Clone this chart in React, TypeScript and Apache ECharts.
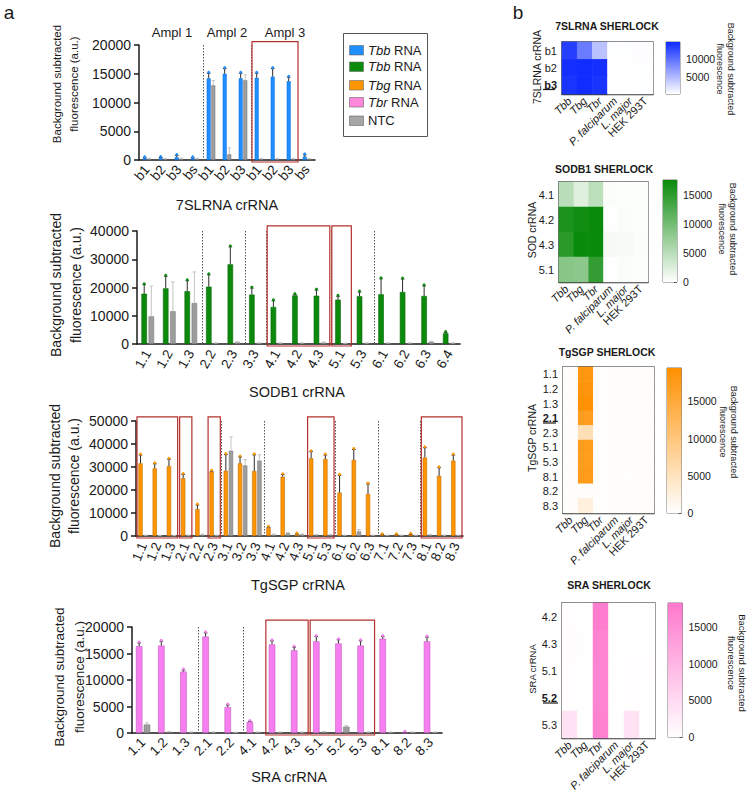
import React, { useEffect, useRef } from 'react';
import * as echarts from 'echarts';

const FONT = '"Liberation Sans", Arial, Helvetica, sans-serif';
const INK = '#1a1a1a';

// ---------- Panel a : bar charts ----------
// 7SLRNA
const cats7SL = ['b1', 'b2', 'b3', 'bs', 'b1', 'b2', 'b3', 'b1', 'b2', 'b3', 'bs'];
const tbb7SL = [300, 350, 500, 300, 14200, 15000, 14200, 14300, 14500, 13700, 600];
const tbb7SLErr = [100, 100, 300, 100, 900, 900, 900, 800, 1400, 700, 300];
const ntc7SL = [200, 150, 200, 200, 13000, 1000, 13900, 150, 150, 150, 150];
const ntc7SLErr = [100, 100, 100, 100, 800, 1100, 900, 100, 100, 100, 100];
const sep7SL = [4, 7];
const box7SL = [[7, 9, 20600]];
const ampl7SL = ['Ampl 1', 'Ampl 2', 'Ampl 3'];

// SODB1
const catsSOD = ['1.1', '1.2', '1.3', '2.2', '2.3', '3.3', '4.1', '4.2', '4.3', '5.1', '5.3', '6.1', '6.2', '6.3', '6.4'];
const tbbSOD = [17800, 19700, 18700, 20300, 28200, 17500, 13100, 17200, 17100, 15700, 16900, 17600, 18400, 17000, 3800];
const tbbSODErr = [3200, 4300, 3700, 4200, 6200, 2300, 2200, 300, 2000, 1200, 1500, 5500, 4600, 3600, 300];
const ntcSOD = [9800, 11600, 14500, 300, 600, 300, 300, 300, 500, 200, 300, 300, 300, 800, 300];
const ntcSODErr = [10700, 10400, 11000, 100, 200, 100, 100, 100, 200, 100, 100, 100, 100, 200, 100];
const sepSOD = [3, 5, 6, 9, 11];
const boxSOD = [[6, 8, 41800], [9, 9, 41800]];

// TgSGP
const catsTg = ['1.1', '1.2', '1.3', '2.1', '2.2', '2.3', '3.1', '3.2', '3.3', '4.1', '4.2', '4.3', '5.1', '5.3', '6.1', '6.2', '6.3', '7.1', '7.2', '7.3', '8.1', '8.2', '8.3'];
const tbgTg = [31600, 29400, 30400, 25100, 11700, 28000, 28400, 31600, 28300, 3500, 25800, 700, 33800, 33500, 18900, 33100, 18300, 500, 500, 700, 34100, 26200, 32800];
const tbgTgErr = [3600, 2000, 3000, 1700, 1800, 200, 7000, 2800, 7000, 300, 900, 200, 2900, 1700, 7500, 4500, 4300, 100, 100, 100, 4300, 3500, 2400];
const ntcTg = [300, 200, 200, 300, 600, 300, 37100, 30700, 32800, 600, 1200, 700, 500, 500, 300, 2000, 300, 300, 300, 300, 500, 300, 300];
const ntcTgErr = [100, 100, 100, 100, 200, 100, 6000, 2500, 2500, 200, 300, 200, 200, 200, 100, 800, 100, 100, 100, 100, 200, 100, 100];
const sepTg = [6, 9, 14, 17, 20];
const boxTg = [[0, 2, 51800], [3, 3, 51800], [5, 5, 51800], [12, 13, 51800], [20, 22, 51800]];

// SRA
const catsSRA = ['1.1', '1.2', '1.3', '2.1', '2.2', '4.1', '4.2', '4.3', '5.1', '5.2', '5.3', '8.1', '8.2', '8.3'];
const tbrSRA = [16400, 16500, 11600, 18200, 4900, 2100, 16700, 15600, 17300, 16900, 16500, 17800, 100, 17300];
const tbrSRAErr = [600, 800, 300, 700, 400, 100, 700, 600, 900, 700, 900, 400, 50, 800];
const ntcSRA = [1600, 200, 150, 150, 100, 150, 150, 150, 200, 1200, 150, 150, 150, 150];
const ntcSRAErr = [300, 100, 50, 50, 50, 50, 50, 50, 100, 200, 50, 50, 50, 50];
const sepSRA = [3, 5];
const boxSRA = [[6, 7, 21300], [8, 10, 21300]];

const legendItems = [
  ['Tbb', ' RNA'],
  ['Tbb', ' RNA'],
  ['Tbg', ' RNA'],
  ['Tbr', ' RNA'],
  ['', 'NTC'],
];

// ---------- Panel b : heatmaps ----------
const hmCols = ['Tbb', 'Tbg', 'Tbr', 'P. falciparum', 'L. major', 'HEK 293T'];
const hm7SLRows = ['b1', 'b2', 'b3'];
const hm7SLVals = [
  [13500, 9300, 4300, 100, 100, 150],
  [14600, 14800, 14600, 80, 80, 100],
  [14300, 14800, 14300, 80, 80, 100],
];
const hmSODRows = ['4.1', '4.2', '4.3', '5.1'];
const hmSODVals = [
  [5000, 2300, 4800, 300, 200, 200],
  [16200, 17000, 17500, 150, 300, 200],
  [15300, 17400, 17500, 700, 600, 300],
  [8600, 8200, 14600, 150, 300, 200],
];
const hmTgRows = ['1.1', '1.2', '1.3', '2.1', '2.3', '5.1', '5.3', '8.1', '8.2', '8.3'];
const hmTgVals = [
  [400, 18300, 200, 300, 300, 300],
  [400, 18600, 200, 300, 300, 300],
  [400, 19200, 200, 300, 300, 300],
  [400, 17200, 200, 300, 300, 300],
  [400, 5600, 200, 300, 300, 300],
  [400, 17300, 200, 300, 300, 300],
  [400, 17300, 200, 300, 300, 300],
  [400, 17500, 200, 300, 200, 300],
  [400, 300, 200, 300, 300, 300],
  [400, 2600, 200, 300, 300, 300],
];
const hmSRARows = ['4.2', '4.3', '5.1', '5.2', '5.3'];
const hmSRAVals = [
  [300, 200, 17600, 150, 150, 200],
  [450, 200, 16800, 150, 150, 200],
  [300, 200, 16500, 150, 250, 250],
  [300, 200, 16500, 150, 250, 200],
  [3800, 200, 17000, 150, 3800, 200],
];

function errRender(offset: number, color: string, cap: number, dot: string | null) {
  return (params: any, api: any) => {
    const i = api.value(0);
    const p0 = api.coord([i, api.value(1)]);
    const p1 = api.coord([i, api.value(2)]);
    const x = p0[0] + offset;
    const st = { stroke: color, lineWidth: 1 };
    const children: any[] = [
      { type: 'line', shape: { x1: x, y1: p0[1], x2: x, y2: p1[1] }, style: st },
      { type: 'line', shape: { x1: x - cap, y1: p1[1], x2: x + cap, y2: p1[1] }, style: st },
    ];
    if (dot) {
      children.push({ type: 'circle', shape: { cx: x, cy: p1[1] - 1, r: 1.4 }, style: { fill: dot } });
    }
    return { type: 'group', children };
  };
}

function sepRender(params: any, api: any) {
  const i = api.value(0);
  const w = api.size([1, 0])[0];
  const top = api.coord([i, api.value(1)]);
  const bot = api.coord([i, 0]);
  const x = Math.round(top[0] - w / 2) + 0.5;
  return {
    type: 'line',
    shape: { x1: x, y1: top[1], x2: x, y2: bot[1] },
    style: { stroke: '#555', lineWidth: 1, lineDash: [1.5, 1.5] },
  };
}

function boxRender(params: any, api: any) {
  const s = api.value(0);
  const e = api.value(1);
  const t = api.value(2);
  const w = api.size([1, 0])[0];
  const pS = api.coord([s, t]);
  const pE = api.coord([e, 0]);
  const x0 = pS[0] - w / 2 + 1;
  const x1 = pE[0] + w / 2 - 1;
  return {
    type: 'rect',
    shape: { x: x0, y: pS[1], width: x1 - x0, height: pE[1] - pS[1] + 2 },
    style: { fill: 'none', stroke: '#b3302c', lineWidth: 1.2 },
  };
}

const plain = (v: number) => String(v);

export default function App() {
  const ref = useRef<HTMLDivElement>(null);

  useEffect(() => {
    if (!ref.current) return;
    const chart = echarts.init(ref.current, undefined, { renderer: 'svg' });

    const barCharts = [
      { cats: cats7SL, vals: tbb7SL, errs: tbb7SLErr, ntc: ntc7SL, ntcErr: ntc7SLErr, seps: sep7SL, boxes: box7SL,
        color: '#1f8fff', border: '#1272d6', left: 139, top: 45, width: 176, height: 115, max: 20000, interval: 5000,
        rotate: 50, bw: 4, gap: 0.15 },
      { cats: catsSOD, vals: tbbSOD, errs: tbbSODErr, ntc: ntcSOD, ntcErr: ntcSODErr, seps: sepSOD, boxes: boxSOD,
        color: '#0b8a0b', border: '#066606', left: 137, top: 231, width: 323, height: 113, max: 40000, interval: 10000,
        rotate: 60, bw: 5.5, gap: 0.3 },
      { cats: catsTg, vals: tbgTg, errs: tbgTgErr, ntc: ntcTg, ntcErr: ntcTgErr, seps: sepTg, boxes: boxTg,
        color: '#ff9500', border: '#c56f00', left: 136, top: 421, width: 327, height: 115, max: 50000, interval: 10000,
        rotate: 68, bw: 4.3, gap: 0.2 },
      { cats: catsSRA, vals: tbrSRA, errs: tbrSRAErr, ntc: ntcSRA, ntcErr: ntcSRAErr, seps: sepSRA, boxes: boxSRA,
        color: '#f77ef0', border: '#c45cc0', left: 132, top: 627, width: 310, height: 106, max: 20000, interval: 5000,
        rotate: 45, bw: 6.5, gap: 0.2 },
    ];

    const grids: any[] = [];
    const xAxes: any[] = [];
    const yAxes: any[] = [];
    const series: any[] = [];

    barCharts.forEach((c, k) => {
      grids.push({ left: c.left, top: c.top, width: c.width, height: c.height });
      xAxes.push({
        type: 'category', gridIndex: k, data: c.cats,
        axisLine: { lineStyle: { color: INK, width: 1.5 } },
        axisTick: { alignWithLabel: true, length: 5, lineStyle: { color: INK, width: 1.5 } },
        axisLabel: { interval: 0, rotate: c.rotate, fontSize: 13.5, color: INK, margin: 7, fontFamily: FONT },
      });
      yAxes.push({
        type: 'value', gridIndex: k, min: 0, max: c.max, interval: c.interval,
        axisLine: { show: true, lineStyle: { color: INK, width: 1.5 } },
        axisTick: { show: true, length: 5, lineStyle: { color: INK, width: 1.5 } },
        splitLine: { show: false },
        axisLabel: { fontSize: 14, color: INK, margin: 8, fontFamily: FONT, formatter: plain },
      });
      const off = (c.bw + c.gap * c.bw) / 2;
      series.push({
        type: 'bar', xAxisIndex: k, yAxisIndex: k, data: c.vals, barWidth: c.bw, barGap: `${c.gap * 100}%`,
        itemStyle: { color: c.color, borderColor: c.border, borderWidth: 0.6 }, z: 2,
      });
      series.push({
        type: 'bar', xAxisIndex: k, yAxisIndex: k, data: c.ntc, barWidth: c.bw, barGap: `${c.gap * 100}%`,
        itemStyle: { color: '#9d9d9d', borderColor: '#7d7d7d', borderWidth: 0.6 }, z: 2,
      });
      series.push({
        type: 'custom', xAxisIndex: k, yAxisIndex: k, z: 3,
        renderItem: errRender(-off, '#2b2b2b', 1.8, c.color),
        encode: { x: 0, y: [1, 2] },
        data: c.vals.map((v, i) => [i, v, v + c.errs[i]]),
      });
      series.push({
        type: 'custom', xAxisIndex: k, yAxisIndex: k, z: 3,
        renderItem: errRender(off, '#c4c4c4', 1.8, null),
        encode: { x: 0, y: [1, 2] },
        data: c.ntc.map((v, i) => [i, v, v + c.ntcErr[i]]),
      });
      series.push({
        type: 'custom', xAxisIndex: k, yAxisIndex: k, z: 1,
        renderItem: sepRender,
        encode: { x: 0, y: 1 },
        data: c.seps.map((s) => [s, c.max]),
      });
      series.push({
        type: 'custom', xAxisIndex: k, yAxisIndex: k, z: 5,
        renderItem: boxRender,
        encode: { x: [0, 1], y: 2 },
        data: c.boxes,
      });
    });

    const heatmaps = [
      { rows: hm7SLRows, vals: hm7SLVals, color: '#0f2bff', max: 14900, hl: 'b3',
        g: { left: 562, top: 42, width: 91, height: 52 }, cb: { left: 666, top: 42, width: 14, height: 52 }, showMin: false },
      { rows: hmSODRows, vals: hmSODVals, color: '#0a8a0a', max: 17500, hl: '',
        g: { left: 559, top: 182, width: 89, height: 100 }, cb: { left: 663, top: 180, width: 14, height: 102 }, showMin: true },
      { rows: hmTgRows, vals: hmTgVals, color: '#ff9000', max: 19500, hl: '2.1',
        g: { left: 563, top: 367, width: 91, height: 146 }, cb: { left: 667, top: 368, width: 14.5, height: 145 }, showMin: true },
      { rows: hmSRARows, vals: hmSRAVals, color: '#ff78cd', max: 18300, hl: '5.2',
        g: { left: 562, top: 603, width: 93, height: 135 }, cb: { left: 668, top: 603, width: 14.5, height: 134 }, showMin: true },
    ];

    const visualMaps: any[] = [];
    heatmaps.forEach((h) => {
      const gi = grids.length;
      grids.push({ ...h.g, show: true, borderColor: '#3a3a3a', borderWidth: 1.3, backgroundColor: 'transparent' });
      xAxes.push({
        type: 'category', gridIndex: gi, data: hmCols,
        axisLine: { lineStyle: { color: '#3a3a3a', width: 1.3 } },
        axisTick: { alignWithLabel: true, length: 4, lineStyle: { color: '#3a3a3a' } },
        axisLabel: {
          interval: 0, rotate: 45, fontSize: 11, color: INK, margin: 5, fontFamily: FONT,
          formatter: (v: string) => (v === 'HEK 293T' ? v : `{i|${v}}`),
          rich: { i: { fontStyle: 'italic', fontSize: 11, color: INK, fontFamily: FONT } },
        },
        splitLine: { show: false },
      });
      yAxes.push({
        type: 'category', gridIndex: gi, data: h.rows, inverse: true,
        axisLine: { lineStyle: { color: '#3a3a3a', width: 1.3 } },
        axisTick: { alignWithLabel: true, length: 4, lineStyle: { color: '#3a3a3a' } },
        axisLabel: {
          interval: 0, fontSize: 11, color: INK, margin: 5, fontFamily: FONT,
          formatter: (v: string) => (v === h.hl ? `{b|${v}}` : v),
          rich: { b: { fontWeight: 'bold', fontSize: 11, color: INK, fontFamily: FONT } },
        },
      });
      const data: number[][] = [];
      h.vals.forEach((row, r) => row.forEach((v, cI) => data.push([cI, r, v])));
      visualMaps.push({
        type: 'continuous', show: false, seriesIndex: series.length, min: 0, max: h.max,
        dimension: 2, inRange: { color: ['#ffffff', h.color] },
      });
      series.push({
        type: 'heatmap', xAxisIndex: gi, yAxisIndex: gi, data,
        itemStyle: { borderWidth: 0 }, emphasis: { disabled: true },
      });

      // colour bar
      const ci = grids.length;
      grids.push({ ...h.cb, show: true, borderColor: '#777', borderWidth: 1, backgroundColor: 'transparent' });
      xAxes.push({ type: 'category', gridIndex: ci, data: [''], show: false });
      yAxes.push({
        type: 'value', gridIndex: ci, min: 0, max: h.max, interval: 5000, position: 'right',
        axisLine: { show: false },
        axisTick: { show: true, length: 3, inside: true, lineStyle: { color: '#555' } },
        splitLine: { show: false },
        axisLabel: {
          fontSize: 10.5, color: INK, margin: 6, showMinLabel: h.showMin, showMaxLabel: false,
          fontFamily: FONT, formatter: plain, hideOverlap: false,
        },
      });
      series.push({
        type: 'bar', xAxisIndex: ci, yAxisIndex: ci, data: [h.max], barWidth: '100%', silent: true,
        itemStyle: {
          color: new echarts.graphic.LinearGradient(0, 0, 0, 1, [
            { offset: 0, color: h.color },
            { offset: 1, color: '#ffffff' },
          ]),
        },
      });
    });

    const txt = (x: number, y: number, text: string, fontSize: number, extra: any = {}, rotation = 0) => ({
      type: 'text', x, y, rotation, silent: true,
      style: { text, fontSize, fontFamily: FONT, fill: INK, align: 'center', verticalAlign: 'middle', ...extra },
    });

    const yTitle = 'Background subtracted\nfluorescence (a.u.)';
    const cbTitle = 'Background subtracted\nfluorescence';
    const legendColors = ['#1f8fff', '#0b8a0b', '#ff9500', '#ff88dd', '#a6a6a6'];

    const graphic: any[] = [
      txt(9, 12, 'a', 19),
      txt(518, 12, 'b', 19),
      txt(172, 32, ampl7SL[0], 13),
      txt(227, 32, ampl7SL[1], 13),
      txt(285, 32, ampl7SL[2], 13),
      txt(65, 84, yTitle, 11.5, { lineHeight: 17 }, Math.PI / 2),
      txt(66, 285, yTitle, 14, { lineHeight: 20 }, Math.PI / 2),
      txt(64, 476, yTitle, 14, { lineHeight: 19 }, Math.PI / 2),
      txt(69, 677, yTitle, 13.5, { lineHeight: 20 }, Math.PI / 2),
      txt(227, 205, '7SLRNA crRNA', 14.5),
      txt(297, 392, 'SODB1 crRNA', 14.5),
      txt(298, 585, 'TgSGP crRNA', 14.5),
      txt(289, 777, 'SRA crRNA', 14.5),
      // heatmap titles
      txt(607, 26, '7SLRNA SHERLOCK', 10.5, { fontWeight: 'bold' }),
      txt(604, 169, 'SODB1 SHERLOCK', 10.5, { fontWeight: 'bold' }),
      txt(607, 352, 'TgSGP SHERLOCK', 10.5, { fontWeight: 'bold' }),
      txt(609, 585, 'SRA SHERLOCK', 10.5, { fontWeight: 'bold' }),
      // heatmap y titles
      txt(537, 67, '7SLRNA crRNA', 10.5, {}, Math.PI / 2),
      txt(532, 230, 'SOD crRNA', 10.5, {}, Math.PI / 2),
      txt(532, 438, 'TgSGP crRNA', 10.5, {}, Math.PI / 2),
      txt(532, 669, 'SRA crRNA', 9.5, {}, Math.PI / 2),
      // colour bar titles
      txt(725, 69, cbTitle, 9, { lineHeight: 11 }, -Math.PI / 2),
      txt(727, 229, cbTitle, 9, { lineHeight: 11 }, -Math.PI / 2),
      txt(728, 432, cbTitle, 9, { lineHeight: 11 }, -Math.PI / 2),
      txt(737, 663, cbTitle, 9.5, { lineHeight: 11 }, -Math.PI / 2),
      // underlines of highlighted crRNAs
      { type: 'line', silent: true, shape: { x1: 543, y1: 89.5, x2: 555, y2: 89.5 }, style: { stroke: INK, lineWidth: 1.2 } },
      { type: 'line', silent: true, shape: { x1: 543, y1: 423, x2: 556, y2: 423 }, style: { stroke: INK, lineWidth: 1.2 } },
      { type: 'line', silent: true, shape: { x1: 543, y1: 703, x2: 558, y2: 703 }, style: { stroke: INK, lineWidth: 1.2 } },
      // legend frame
      { type: 'rect', silent: true, shape: { x: 343.5, y: 33.5, width: 84, height: 103 }, style: { fill: '#fff', stroke: '#555', lineWidth: 1 } },
    ];
    const legendY = [50, 66.5, 85, 102, 120.5];
    legendItems.forEach((it, i) => {
      graphic.push({
        type: 'rect', silent: true, shape: { x: 349.5, y: legendY[i] - 4.5, width: 14, height: 9.5 },
        style: { fill: legendColors[i], stroke: '#666', lineWidth: 0.6 },
      });
      graphic.push({
        type: 'text', silent: true, x: 368, y: legendY[i],
        style: {
          text: it[0] ? `{i|${it[0]}}${it[1]}` : it[1],
          fontSize: 13, fontFamily: FONT, fill: INK, align: 'left', verticalAlign: 'middle',
          rich: { i: { fontStyle: 'italic', fontSize: 13, fontFamily: FONT, fill: INK } },
        },
      });
    });

    chart.setOption({
      animation: false,
      backgroundColor: '#ffffff',
      textStyle: { fontFamily: FONT },
      grid: grids,
      xAxis: xAxes,
      yAxis: yAxes,
      visualMap: visualMaps,
      series,
      graphic,
    });

    return () => chart.dispose();
  }, []);

  return (
    <div
      ref={ref}
      style={{ position: 'absolute', left: 0, top: 0, width: 749, height: 796, background: '#fff' }}
    />
  );
}
